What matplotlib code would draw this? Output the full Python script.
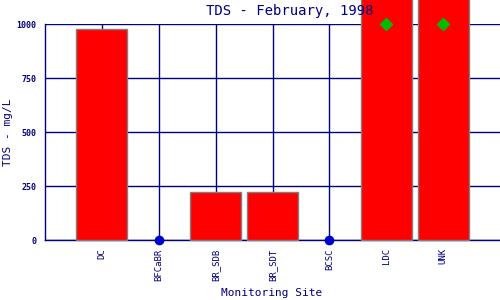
import numpy as np
import matplotlib
matplotlib.use("Agg")
import matplotlib.pyplot as plt

sites = ["DC", "BFCaBR", "BR_SDB", "BR_SDT", "BCSC", "LDC", "UNK"]
tds_values = [978, 0, 220, 220, 0, 1300, 1300]
nondetect_sites = ["BFCaBR", "BCSC"]
exceed_sites = ["LDC", "UNK"]
y_ticks = [0, 250, 500, 750, 1000]

NAVY = "#000080"
MONO = "DejaVu Sans Mono"

fig = plt.figure(figsize=(5, 3), dpi=100)
ax = fig.add_axes([0.09, 0.2, 0.91, 0.72])

x = np.arange(len(sites))
bar_idx = [i for i, v in enumerate(tds_values) if v > 0]
ax.bar([x[i] for i in bar_idx], [tds_values[i] for i in bar_idx], width=0.9,
       color="#ff0000", edgecolor="#808080", linewidth=1, zorder=3, clip_on=False)

nd_x = [sites.index(s) for s in nondetect_sites]
ax.plot(nd_x, [0] * len(nd_x), "o", color="#0000cc", markersize=6,
        zorder=5, clip_on=False)
ex_x = [sites.index(s) for s in exceed_sites]
ax.plot(ex_x, [1000] * len(ex_x), "D", color="#00bb00", markersize=6,
        zorder=5, clip_on=False)

ax.set_xlim(-1, 7)
ax.set_ylim(0, 1000)
ax.set_xticks(x)
ax.set_xticklabels(sites, rotation=90, fontsize=6.5, family=MONO, color=NAVY)
ax.set_yticks(y_ticks)
ax.set_yticklabels([str(t) for t in y_ticks], fontsize=6, family=MONO,
                   color=NAVY, fontweight="bold")
ax.tick_params(length=0, pad=6)
ax.grid(True, color=NAVY, linewidth=1, zorder=1)
for side in ["top", "right"]:
    ax.spines[side].set_visible(False)
for side in ["left", "bottom"]:
    ax.spines[side].set_color(NAVY)
    ax.spines[side].set_linewidth(1)

fig.text(0.544, 0.022, "Monitoring Site", ha="center", va="center",
         fontsize=8, family=MONO, color=NAVY)
fig.text(0.016, 0.56, "TDS - mg/L", ha="center", va="center", rotation=90,
         fontsize=8, family=MONO, color=NAVY)
fig.text(0.58, 0.965, "TDS - February, 1998", ha="center", va="center",
         fontsize=10, family=MONO, color=NAVY)

fig.savefig("out.png", dpi=100)
